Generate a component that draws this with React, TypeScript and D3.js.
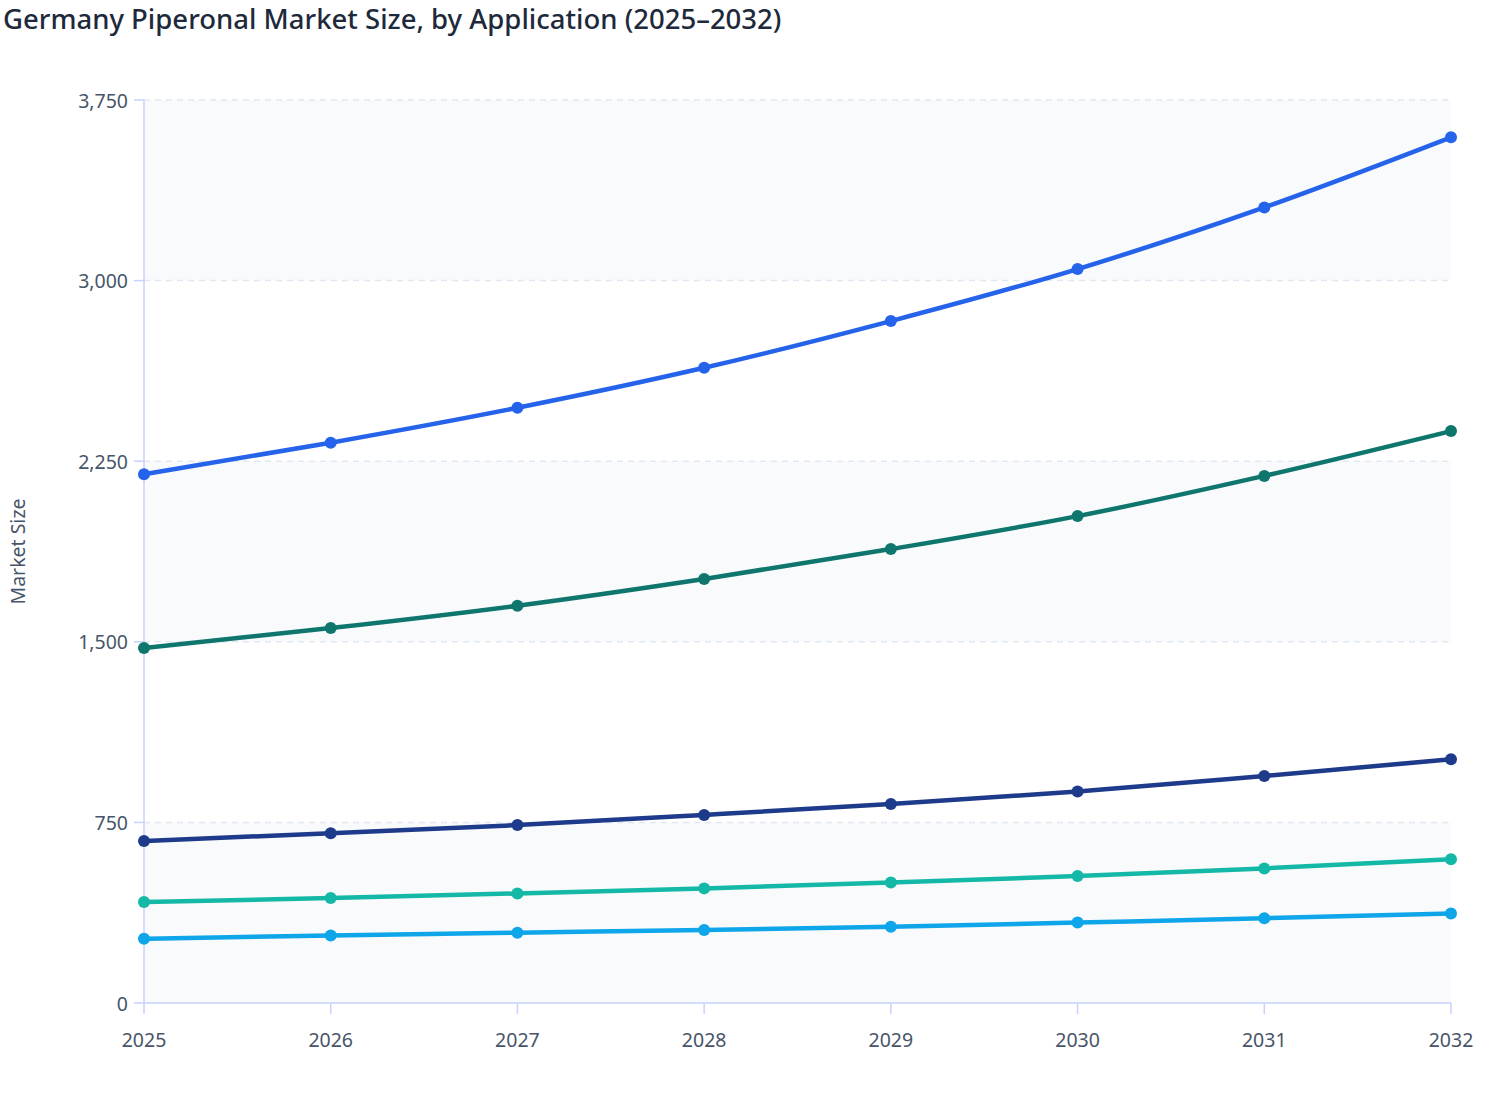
import * as React from 'react';
import * as d3 from 'd3';

const years = ['2025', '2026', '2027', '2028', '2029', '2030', '2031', '2032'];
const yTicks = [0, 750, 1500, 2250, 3000, 3750];

const seriesA = [2196, 2327, 2472, 2638, 2832, 3048, 3304, 3595];
const seriesB = [1474, 1557, 1650, 1761, 1885, 2022, 2189, 2375];
const seriesC = [673, 705, 739, 781, 826, 878, 943, 1012];
const seriesD = [419, 436, 455, 476, 500, 527, 559, 597];
const seriesE = [267, 280, 292, 303, 317, 334, 352, 372];

const seriesColors = ['#2563eb', '#0f766e', '#1e3a8a', '#14b8a6', '#0ea5e9'];

const App: React.FC = () => {
  const width = 1508;
  const height = 1120;
  const margin = { top: 100, right: 57, bottom: 117, left: 144 };

  const x = d3
    .scalePoint<string>()
    .domain(years)
    .range([margin.left, width - margin.right]);

  const y = d3
    .scaleLinear()
    .domain([0, 3750])
    .range([height - margin.bottom, margin.top]);

  const allSeries = [seriesA, seriesB, seriesC, seriesD, seriesE];

  const line = d3
    .line<number>()
    .x((_, i) => x(years[i]) as number)
    .y((d) => y(d))
    .curve(d3.curveMonotoneX);

  const axisColor = '#c7d2fe';
  const labelColor = '#475569';
  const font = '"Noto Sans", "Open Sans", sans-serif';

  // alternating bands between tick values
  const bands = d3.pairs(yTicks).filter((_, i) => i % 2 === 0);

  return (
    <div style={{ position: 'absolute', left: 0, top: 0 }}>
      <svg width={width} height={height} style={{ display: 'block' }} fontFamily={font}>
        <rect width={width} height={height} fill="#ffffff" />
        <text x={3} y={29} fontSize={27.5} fontWeight={500} fill="#1e293b">
          Germany Piperonal Market Size, by Application (2025–2032)
        </text>

        {bands.map(([a, b]) => (
          <rect
            key={a}
            x={margin.left}
            width={width - margin.right - margin.left}
            y={y(b)}
            height={y(a) - y(b)}
            fill="#f8fafc"
          />
        ))}

        {yTicks.slice(1).map((t) => (
          <line
            key={t}
            x1={margin.left}
            x2={width - margin.right}
            y1={y(t)}
            y2={y(t)}
            stroke="#e2e8f0"
            strokeWidth={1.5}
            strokeDasharray="6 5"
          />
        ))}

        {/* y axis */}
        <line x1={margin.left} x2={margin.left} y1={y(3750)} y2={y(0)} stroke={axisColor} strokeWidth={1.5} />
        {yTicks.map((t) => (
          <g key={t}>
            <line x1={margin.left - 10} x2={margin.left} y1={y(t)} y2={y(t)} stroke={axisColor} strokeWidth={1.5} />
            <text
              x={margin.left - 16}
              y={y(t)}
              textAnchor="end"
              dominantBaseline="central"
              fontSize={19.5}
              fill={labelColor}
            >
              {d3.format(',')(t)}
            </text>
          </g>
        ))}

        {/* x axis */}
        <line x1={margin.left} x2={width - margin.right} y1={y(0)} y2={y(0)} stroke={axisColor} strokeWidth={1.5} />
        {years.map((yr) => (
          <g key={yr}>
            <line
              x1={x(yr)}
              x2={x(yr)}
              y1={y(0)}
              y2={y(0) + 11}
              stroke={axisColor}
              strokeWidth={1.5}
            />
            <text x={x(yr)} y={y(0) + 36} textAnchor="middle" dominantBaseline="central" fontSize={19.5} fill={labelColor}>
              {yr}
            </text>
          </g>
        ))}

        <text
          transform={`translate(17, ${(y(0) + y(3750)) / 2}) rotate(-90)`}
          textAnchor="middle"
          dominantBaseline="central"
          fontSize={19.5}
          fill={labelColor}
        >
          Market Size
        </text>

        {allSeries.map((s, si) => (
          <g key={si}>
            <path d={line(s) ?? ''} fill="none" stroke={seriesColors[si]} strokeWidth={4.5} />
            {s.map((v, i) => (
              <circle key={i} cx={x(years[i])} cy={y(v)} r={6} fill={seriesColors[si]} />
            ))}
          </g>
        ))}
      </svg>
    </div>
  );
};

export default App;
